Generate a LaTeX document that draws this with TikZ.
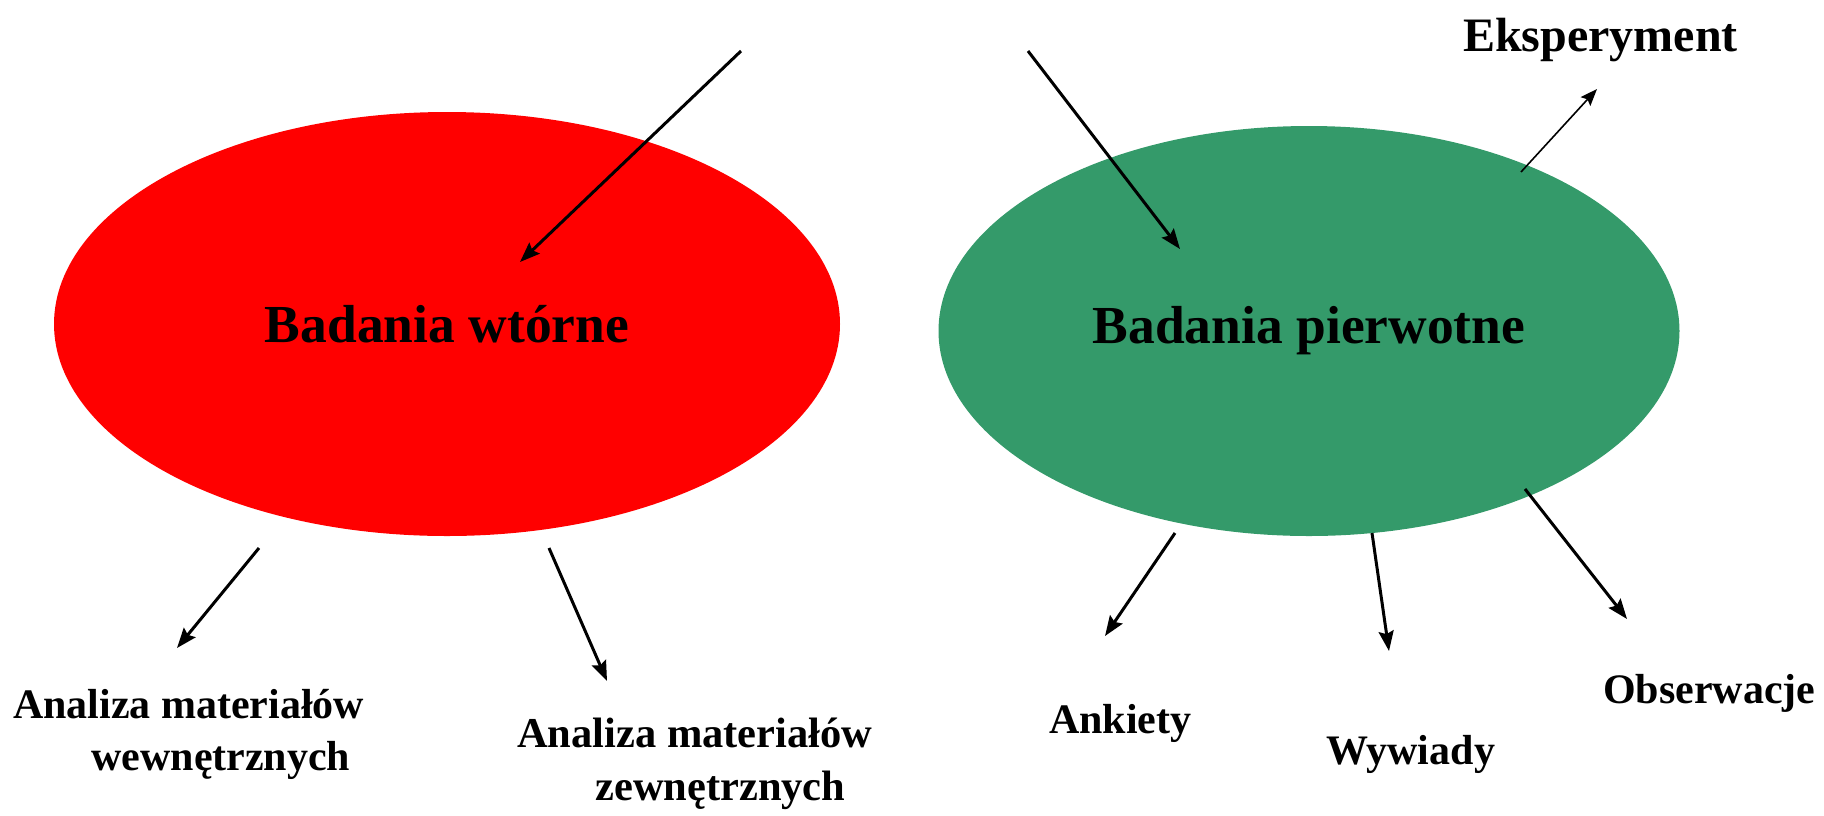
\documentclass[tikz,border=0pt]{standalone}
\usepackage{fontspec}
\setmainfont{Liberation Serif}
\usetikzlibrary{shapes.geometric,arrows.meta}
\definecolor{primgreen}{RGB}{52,154,106}
\begin{document}
\begin{tikzpicture}[x=1pt,y=-1pt,
  blob/.style={ellipse,inner sep=0pt,font=\fontsize{53.5}{60}\selectfont\bfseries},
  lbl/.style={inner sep=0pt,anchor=base west,font=\fontsize{42}{52}\selectfont\bfseries},
  conn/.style={line width=3pt,-{Stealth[length=20pt,width=15pt,inset=3pt]}},
  thin conn/.style={line width=1.6pt,-{Stealth[length=17pt,width=13pt,inset=3pt]}}]
\useasboundingbox (0,0) rectangle (1824,815);
% ellipses
\node[blob,fill=red,minimum width=786pt,minimum height=424pt] (sec) at (447,324) {Badania wtórne};
\node[blob,fill=primgreen,minimum width=741pt,minimum height=410pt] (prim) at (1309,331) {Badania pierwotne};
% labels
\node[lbl,font=\fontsize{48}{56}\selectfont\bfseries] (eks) at (1463,51) {Eksperyment};
\node[lbl,align=right] (wew) at (13,770) {Analiza materiałów\\wewnętrznych\hspace*{14pt}};
\node[lbl,align=right,font=\fontsize{42.5}{53}\selectfont\bfseries] (zew) at (517,800) {Analiza materiałów\\zewnętrznych\hspace*{27pt}};
\node[lbl] (ank) at (1049,733) {Ankiety};
\node[lbl] (wyw) at (1326,764) {Wywiady};
\node[lbl] (obs) at (1603,703) {Obserwacje};
% connector end points
\coordinate (inR0) at (741,51);  \coordinate (inR1) at (520,262);
\coordinate (inG0) at (1028,51); \coordinate (inG1) at (1180,249);
\coordinate (eks0) at (1521,172); \coordinate (eks1) at (1597,89);
\coordinate (wew0) at (259,548); \coordinate (wew1) at (177,648);
\coordinate (zew0) at (549,548); \coordinate (zew1) at (607,681);
\coordinate (ank0) at (1175,533); \coordinate (ank1) at (1105,636);
\coordinate (wyw0) at (1372,533); \coordinate (wyw1) at (1389,651);
\coordinate (obs0) at (1525,489); \coordinate (obs1) at (1627,619);
% connectors
\draw[conn] (inR0) -- (inR1);
\draw[conn] (inG0) -- (inG1);
\draw[thin conn] (eks0) -- (eks1);
\draw[conn] (wew0) -- (wew1);
\draw[conn] (zew0) -- (zew1);
\draw[conn] (ank0) -- (ank1);
\draw[conn] (wyw0) -- (wyw1);
\draw[conn] (obs0) -- (obs1);
\end{tikzpicture}
\end{document}
